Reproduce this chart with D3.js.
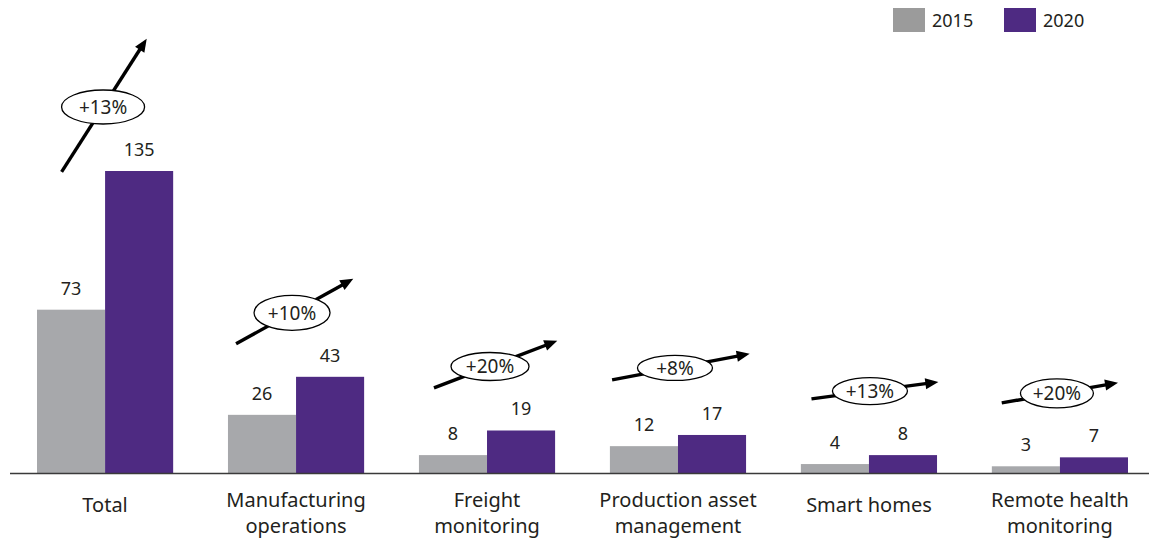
<!DOCTYPE html>
<html>
<head>
<meta charset="utf-8">
<script src="https://cdn.jsdelivr.net/npm/d3@7"></script>
<style>
  html, body { margin: 0; padding: 0; background: #ffffff; }
  svg { display: block; font-family: "Noto Sans", "Open Sans", sans-serif; }
</style>
</head>
<body>
<svg id="chart" width="1149" height="541"></svg>
<script>
// Connected devices by use case (millions)
const categories = [
  "Total",
  "Manufacturing\noperations",
  "Freight\nmonitoring",
  "Production asset\nmanagement",
  "Smart homes",
  "Remote health\nmonitoring"
];
const seriesNames = ["2015", "2020"];
const values2015 = [73, 26, 8, 12, 4, 3];
const values2020 = [135, 43, 19, 17, 8, 7];
const growthLabels = ["+13%", "+10%", "+20%", "+8%", "+13%", "+20%"];

// Growth arrow annotations: angle (deg), length behind / ahead of the badge,
// badge radii and small nudges from the group centre.
const arrowLayout = [
  { angle: 57.4, back: 77, fwd: 81, rx: 41.5, ry: 17,   dx: -2, dy: 0 },
  { angle: 29.0, back: 64, fwd: 70, rx: 38,   ry: 17.5, dx: -4, dy: 0 },
  { angle: 20.9, back: 60, fwd: 72, rx: 39,   ry: 14,   dx: 3,  dy: 0 },
  { angle: 10.7, back: 64, fwd: 76, rx: 37.5, ry: 12.5, dx: -3, dy: -3 },
  { angle: 7.6,  back: 59, fwd: 69, rx: 37.5, ry: 13.5, dx: 1,  dy: 0 },
  { angle: 9.8,  back: 56, fwd: 62, rx: 36.5, ry: 14.5, dx: -3, dy: 0 }
];

const barColors = { "2015": "#a7a8ab", "2020": "#4e2a82" };
const legendColors = { "2015": "#9b9b9b", "2020": "#4e2a82" };
const textColor = "#231f20";

const svg = d3.select("#chart");

const rows = categories.map((c, i) => ({
  category: c,
  values: { "2015": values2015[i], "2020": values2020[i] },
  growth: growthLabels[i],
  arrow: arrowLayout[i]
}));

const x0 = d3.scaleBand()
  .domain(categories)
  .range([37, 1128])
  .paddingInner(0.287)
  .paddingOuter(0);

const x1 = d3.scaleBand()
  .domain(seriesNames)
  .range([0, x0.bandwidth()])
  .padding(0);

const baseY = 473;
const y = d3.scaleLinear()
  .domain([0, 135])
  .range([baseY, 171]);

// Bars
const groups = svg.append("g")
  .selectAll("g.group")
  .data(rows)
  .join("g")
  .attr("class", "group")
  .attr("transform", d => `translate(${x0(d.category)},0)`);

groups.selectAll("rect")
  .data(d => seriesNames.map(s => ({ s, v: d.values[s] })))
  .join("rect")
  .attr("x", d => x1(d.s))
  .attr("y", d => y(d.v))
  .attr("width", x1.bandwidth())
  .attr("height", d => baseY - y(d.v))
  .attr("fill", d => barColors[d.s]);

// Value labels
groups.selectAll("text.value")
  .data(d => seriesNames.map(s => ({ s, v: d.values[s] })))
  .join("text")
  .attr("class", "value")
  .attr("x", d => x1(d.s) + x1.bandwidth() / 2)
  .attr("y", d => y(d.v) - 15)
  .attr("text-anchor", "middle")
  .attr("font-size", 18)
  .attr("fill", textColor)
  .text(d => d.v);

// Baseline
svg.append("line")
  .attr("x1", 10).attr("x2", 1149)
  .attr("y1", baseY + 0.5).attr("y2", baseY + 0.5)
  .attr("stroke", "#3a3a3a")
  .attr("stroke-width", 1.4);

// Category labels via a bottom axis, wrapped into lines
const xAxis = d3.axisBottom(x0).tickSize(0).tickPadding(0);
const axisG = svg.append("g")
  .attr("transform", `translate(0,${baseY})`)
  .call(xAxis);
axisG.select(".domain").remove();
axisG.selectAll(".tick text").each(function (d) {
  const lines = d.split("\n");
  const t = d3.select(this)
    .attr("font-size", 20)
    .attr("font-family", "'Noto Sans', 'Open Sans', sans-serif")
    .attr("fill", textColor)
    .attr("dy", null)
    .attr("y", null)
    .text(null);
  const first = lines.length === 1 ? 39 : 34;
  lines.forEach((ln, i) => {
    t.append("tspan")
      .attr("x", x0.bandwidth() / 2)
      .attr("y", first + i * 26)
      .text(ln);
  });
});
axisG.selectAll(".tick").attr("transform", d => `translate(${x0(d)},0)`);

// Growth arrows with badge
const ann = svg.append("g")
  .selectAll("g.ann")
  .data(rows)
  .join("g")
  .attr("class", "ann");

ann.each(function (d) {
  const g = d3.select(this);
  const a = d.arrow;
  const cx = x0(d.category) + x0.bandwidth() / 2 + a.dx;
  const cy = y(d.values["2020"]) - 64 + a.dy;
  const rad = a.angle * Math.PI / 180;
  const ux = Math.cos(rad), uy = -Math.sin(rad);
  const sx = cx - ux * a.back, sy = cy - uy * a.back;
  const tx = cx + ux * a.fwd, ty = cy + uy * a.fwd;
  const headLen = 13, headHalf = 5.5;
  const bx = tx - ux * headLen, by = ty - uy * headLen;
  const px = -uy, py = ux;

  g.append("line")
    .attr("x1", sx).attr("y1", sy)
    .attr("x2", bx + ux * 2).attr("y2", by + uy * 2)
    .attr("stroke", "#000")
    .attr("stroke-width", 3.4);

  g.append("path")
    .attr("d", `M${tx},${ty}L${bx + px * headHalf},${by + py * headHalf}L${bx - px * headHalf},${by - py * headHalf}Z`)
    .attr("fill", "#000");

  g.append("ellipse")
    .attr("cx", cx).attr("cy", cy)
    .attr("rx", a.rx).attr("ry", a.ry)
    .attr("fill", "#fff")
    .attr("stroke", "#000")
    .attr("stroke-width", 1.3);

  g.append("text")
    .attr("x", cx).attr("y", cy)
    .attr("dy", "0.36em")
    .attr("text-anchor", "middle")
    .attr("font-size", 19)
    .attr("fill", textColor)
    .text(d.growth);
});

// Legend
const legend = svg.append("g")
  .selectAll("g.legend")
  .data(seriesNames)
  .join("g")
  .attr("class", "legend")
  .attr("transform", (d, i) => `translate(${893 + i * 111},0)`);

legend.append("rect")
  .attr("x", 0).attr("y", 8)
  .attr("width", 32).attr("height", 24)
  .attr("fill", d => legendColors[d]);

legend.append("text")
  .attr("x", 39).attr("y", 27)
  .attr("font-size", 18)
  .attr("fill", textColor)
  .text(d => d);
</script>
</body>
</html>
